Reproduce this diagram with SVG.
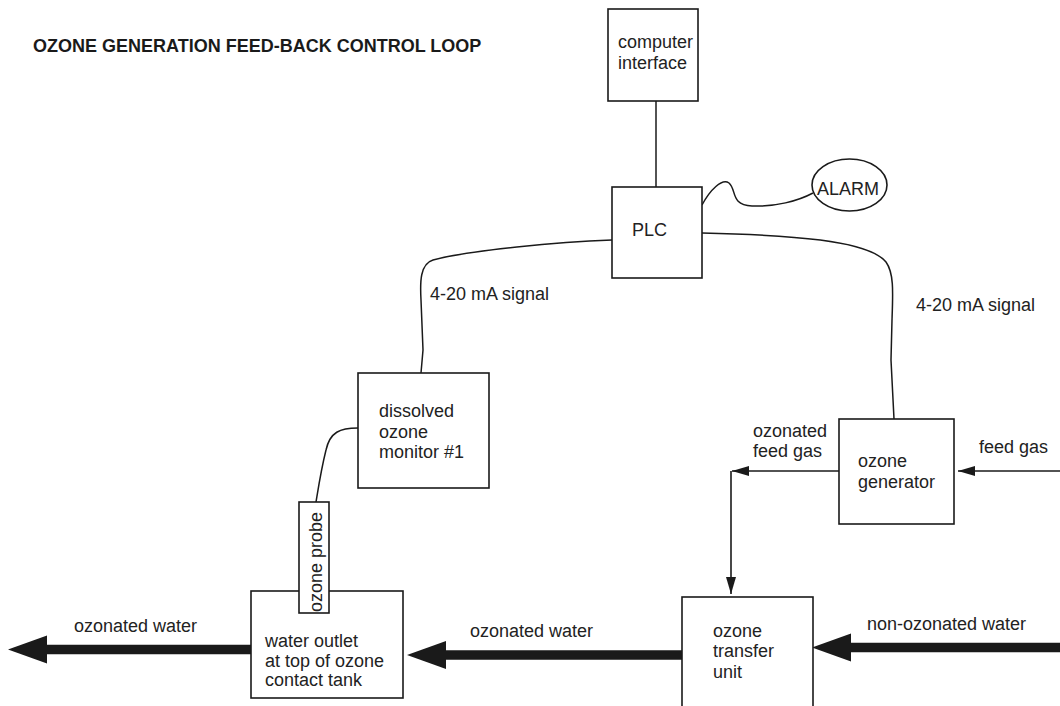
<svg xmlns="http://www.w3.org/2000/svg" width="1060" height="706" viewBox="0 0 1060 706">
<defs>
<style>
.box{fill:#fff;stroke:#1a1a1a;stroke-width:1.6}
.t{font-family:"Liberation Sans",Arial,sans-serif;font-size:18px;fill:#222}
.title{font-family:"Liberation Sans",Arial,sans-serif;font-size:18px;font-weight:bold;fill:#1a1a1a}
.wire{fill:none;stroke:#1a1a1a;stroke-width:1.5}
.pipe{fill:none;stroke:#1a1a1a;stroke-width:9.5}
.gas{fill:none;stroke:#1a1a1a;stroke-width:1.6}
</style>
<marker id="big" markerUnits="userSpaceOnUse" viewBox="0 -15 40 30" markerWidth="40" markerHeight="30" refX="0" refY="0" orient="auto">
<path d="M0,-14 L39,0 L0,14 z" fill="#1a1a1a"/>
</marker>
<marker id="small" markerUnits="userSpaceOnUse" viewBox="0 -6 18 12" markerWidth="18" markerHeight="12" refX="17" refY="0" orient="auto">
<path d="M0,-5 L17,0 L0,5 z" fill="#1a1a1a"/>
</marker>
</defs>
<rect width="1060" height="706" fill="#fff"/>
<text class="title" x="33" y="52">OZONE GENERATION FEED-BACK CONTROL LOOP</text>

<g id="connectors">
<line class="wire" x1="656" y1="101" x2="656" y2="187"/>
<path class="wire" d="M702,205 C710,190 722,178 729,183 C737,190 730,205 752,206 C775,207 798,201 813,193"/>
<path class="wire" d="M702,233 C790,235 868,240 886,262 C894,273 893,292 892,320 L891,360 L894,419"/>
<path class="wire" d="M612,240 C560,242 470,250 433,260 C420,264 420,282 421,300 L423,350 L421,373"/>
<path class="wire" d="M358,428 C340,428 330,432 326,450 C321,470 318,490 316,502"/>
<line class="gas" x1="843" y1="471" x2="732" y2="471" marker-end="url(#small)"/>
<line class="gas" x1="731" y1="471" x2="731" y2="594" marker-end="url(#small)"/>
<line class="gas" x1="1060" y1="471" x2="958" y2="471" marker-end="url(#small)"/>
<line class="pipe" x1="251" y1="649.5" x2="47" y2="649.5" marker-end="url(#big)"/>
<line class="pipe" x1="682" y1="655" x2="446" y2="655" marker-end="url(#big)"/>
<line class="pipe" x1="1060" y1="647.5" x2="851" y2="647.5" marker-end="url(#big)"/>
<text class="t" x="430" y="300">4-20 mA signal</text>
<text class="t" x="916" y="311">4-20 mA signal</text>
<text class="t" x="753" y="437">ozonated</text>
<text class="t" x="753" y="457">feed gas</text>
<text class="t" x="979" y="453">feed gas</text>
<text class="t" x="74" y="632">ozonated water</text>
<text class="t" x="470" y="637">ozonated water</text>
<text class="t" x="867" y="630">non-ozonated water</text>
</g>

<g id="computer-interface">
<rect class="box" x="608" y="9" width="90" height="92"/>
<text class="t" x="618" y="48">computer</text>
<text class="t" x="618" y="69">interface</text>
</g>

<g id="plc">
<rect class="box" x="612" y="187" width="90" height="91"/>
<text class="t" x="632" y="236">PLC</text>
</g>

<g id="alarm">
<ellipse class="box" cx="849.5" cy="185" rx="37.5" ry="26"/>
<text class="t" x="817" y="195">ALARM</text>
</g>

<g id="dissolved-ozone-monitor">
<rect class="box" x="358" y="373" width="131" height="115"/>
<text class="t" x="379" y="417">dissolved</text>
<text class="t" x="379" y="438">ozone</text>
<text class="t" x="379" y="458">monitor #1</text>
</g>

<g id="ozone-generator">
<rect class="box" x="839" y="419" width="115" height="105"/>
<text class="t" x="858" y="467">ozone</text>
<text class="t" x="858" y="488">generator</text>
</g>

<g id="water-outlet">
<rect class="box" x="251" y="591" width="152" height="107"/>
<text class="t" x="265" y="647">water outlet</text>
<text class="t" x="265" y="667">at top of ozone</text>
<text class="t" x="265" y="686">contact tank</text>
</g>

<g id="ozone-probe">
<rect class="box" x="299" y="502" width="30" height="111"/>
<text class="t" transform="translate(322,612) rotate(-90)">ozone probe</text>
</g>

<g id="ozone-transfer-unit">
<rect class="box" x="682" y="597" width="131" height="120"/>
<text class="t" x="713" y="637">ozone</text>
<text class="t" x="713" y="657">transfer</text>
<text class="t" x="713" y="678">unit</text>
</g>
</svg>
